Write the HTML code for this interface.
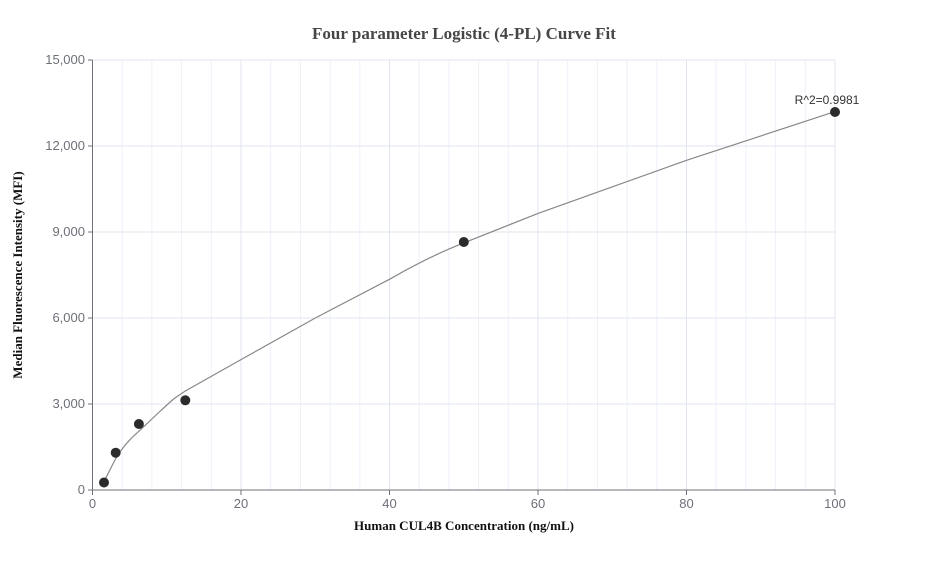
<!DOCTYPE html><html><head><style>body{margin:0;background:#fff}</style></head><body>
<svg width="927" height="560" xmlns="http://www.w3.org/2000/svg" font-family="Liberation Sans, sans-serif">
<rect width="927" height="560" fill="#fff"/>
<g stroke="#eef1fa" stroke-width="1">
<line x1="122.2" y1="60" x2="122.2" y2="490"/><line x1="151.9" y1="60" x2="151.9" y2="490"/><line x1="181.6" y1="60" x2="181.6" y2="490"/><line x1="211.3" y1="60" x2="211.3" y2="490"/>
<line x1="270.7" y1="60" x2="270.7" y2="490"/><line x1="300.4" y1="60" x2="300.4" y2="490"/><line x1="330.1" y1="60" x2="330.1" y2="490"/><line x1="359.8" y1="60" x2="359.8" y2="490"/>
<line x1="419.2" y1="60" x2="419.2" y2="490"/><line x1="448.9" y1="60" x2="448.9" y2="490"/><line x1="478.6" y1="60" x2="478.6" y2="490"/><line x1="508.3" y1="60" x2="508.3" y2="490"/>
<line x1="567.7" y1="60" x2="567.7" y2="490"/><line x1="597.4" y1="60" x2="597.4" y2="490"/><line x1="627.1" y1="60" x2="627.1" y2="490"/><line x1="656.8" y1="60" x2="656.8" y2="490"/>
<line x1="716.2" y1="60" x2="716.2" y2="490"/><line x1="745.9" y1="60" x2="745.9" y2="490"/><line x1="775.6" y1="60" x2="775.6" y2="490"/><line x1="805.3" y1="60" x2="805.3" y2="490"/>
</g>
<g stroke="#e0e6f1" stroke-width="1">
<line x1="241" y1="60" x2="241" y2="490"/><line x1="389.5" y1="60" x2="389.5" y2="490"/><line x1="538" y1="60" x2="538" y2="490"/><line x1="686.5" y1="60" x2="686.5" y2="490"/><line x1="835" y1="60" x2="835" y2="490"/>
<line x1="92.5" y1="60" x2="835" y2="60"/><line x1="92.5" y1="146" x2="835" y2="146"/><line x1="92.5" y1="232" x2="835" y2="232"/><line x1="92.5" y1="318" x2="835" y2="318"/><line x1="92.5" y1="404" x2="835" y2="404"/>
</g>
<g stroke="#6e7079" stroke-width="1">
<line x1="92.5" y1="60" x2="92.5" y2="490"/><line x1="92.5" y1="490" x2="835" y2="490"/>
<line x1="88" y1="60" x2="92.5" y2="60"/><line x1="88" y1="146" x2="92.5" y2="146"/><line x1="88" y1="232" x2="92.5" y2="232"/><line x1="88" y1="318" x2="92.5" y2="318"/><line x1="88" y1="404" x2="92.5" y2="404"/><line x1="88" y1="490" x2="92.5" y2="490"/>
<line x1="92.5" y1="490" x2="92.5" y2="495"/><line x1="241" y1="490" x2="241" y2="495"/><line x1="389.5" y1="490" x2="389.5" y2="495"/><line x1="538" y1="490" x2="538" y2="495"/><line x1="686.5" y1="490" x2="686.5" y2="495"/><line x1="835" y1="490" x2="835" y2="495"/>
</g>
<g fill="#6e7079" font-size="13" text-anchor="end">
<text x="85" y="64">15,000</text><text x="85" y="150">12,000</text><text x="85" y="236">9,000</text><text x="85" y="322">6,000</text><text x="85" y="408">3,000</text><text x="85" y="494">0</text>
</g>
<g fill="#6e7079" font-size="13" text-anchor="middle">
<text x="92.5" y="508">0</text><text x="241" y="508">20</text><text x="389.5" y="508">40</text><text x="538" y="508">60</text><text x="686.5" y="508">80</text><text x="835" y="508">100</text>
</g>
<path d="M104.1,481.4 L115.7,458.5 Q125,443 138.9,431.2 L159.3,412 Q170,402 174.2,398.5 L185.3,391 L241,359.6 L315.3,318 L389.5,279.3 Q430,256 463.8,242.9 L538,213.4 L686.5,160.3 L835,111.6" fill="none" stroke="#888" stroke-width="1.2"/>
<g fill="#2b2b2b">
<circle cx="104" cy="482.5" r="5"/><circle cx="115.7" cy="452.7" r="5"/><circle cx="138.9" cy="424" r="5"/><circle cx="185.3" cy="400.3" r="5"/><circle cx="463.8" cy="242" r="5"/><circle cx="835" cy="112" r="5"/>
</g>
<text x="827" y="104" font-size="12" fill="#333" text-anchor="middle">R^2=0.9981</text>
<text x="464" y="39" font-family="Liberation Serif, serif" font-weight="bold" font-size="17" fill="#464646" text-anchor="middle">Four parameter Logistic (4-PL) Curve Fit</text>
<text x="464" y="530" font-family="Liberation Serif, serif" font-weight="bold" font-size="13" fill="#111" text-anchor="middle">Human CUL4B Concentration (ng/mL)</text>
<text transform="translate(22,275) rotate(-90)" font-family="Liberation Serif, serif" font-weight="bold" font-size="13" fill="#111" text-anchor="middle">Median Fluorescence Intensity (MFI)</text>
</svg>
</body></html>
